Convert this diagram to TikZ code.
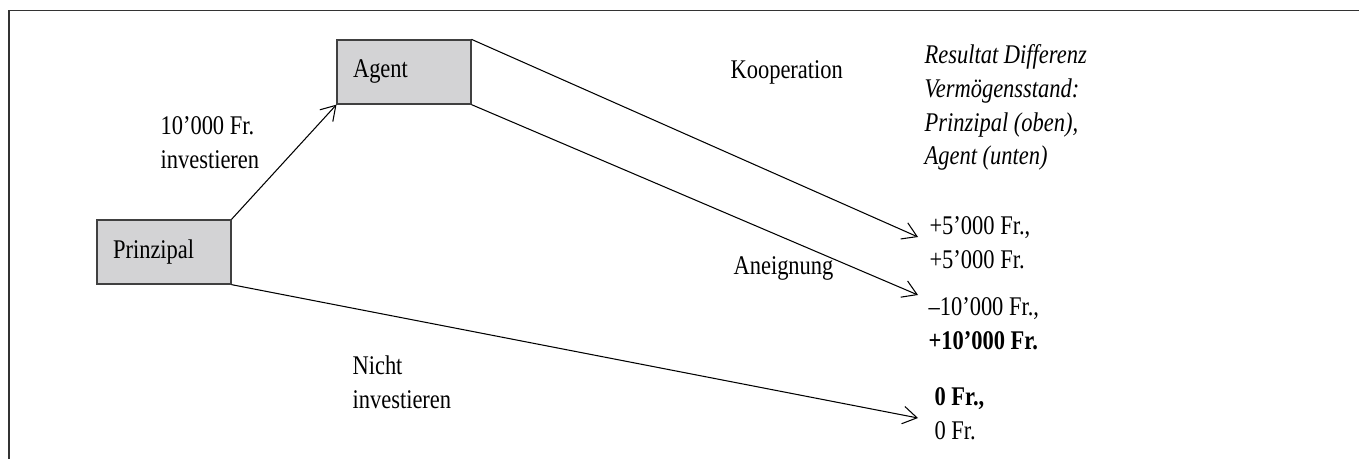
\documentclass[tikz,border=0pt]{standalone}
\usepackage{fontspec}
\setmainfont{Liberation Serif}
\usepackage{xcolor}
\usetikzlibrary{arrows.meta}
\definecolor{boxgray}{RGB}{211,211,213}

\begin{document}
\begin{tikzpicture}[x=0.02cm, y=-0.02cm, line width=0.6pt, >={Straight Barb[length=8pt,width=10pt]},
        main/.style = {draw=black!75, fill=boxgray, yscale=1.2, minimum width=2.68cm, minimum height=1.067cm, inner xsep=0.32cm, inner ysep=0pt, text width=2.04cm, align=left, font=\fontsize{12.8}{16}\selectfont},
        lbl/.style = {yscale=1.2, inner sep=0pt, align=left, font=\fontsize{12.8}{16}\selectfont}]
        \useasboundingbox (0,0) rectangle (1359,459);
        % frame
        \draw[black!80, line width=0.9pt] (9,459) -- (9,10.5) -- (1359,10.5);
        \node[main] (1) at (164,252) {Prinzipal};
        \node[main] (2) at (404,72) {Agent};
        \coordinate (6) at (918,237);
        \coordinate (7) at (918,295);
        \coordinate (8) at (918,418);
        \draw[->] (1.north east) to (2.south west);
        \draw[->] (2.north east) to (6);
        \draw[->] (2.south east) to (7);
        \draw[->] (1.south east) to (8);
        % labels
        \node[lbl, anchor=north west] (9) at (160,116) {10’000 Fr.\\investieren};
        \node[lbl, anchor=base west] (10) at (730,79) {Kooperation};
        \node[lbl, anchor=base west] (11) at (733,275) {Aneignung};
        \node[lbl, anchor=north west] (12) at (352,355) {Nicht\\investieren};
        \node[lbl, anchor=north west, font=\fontsize{12.8}{16}\selectfont\itshape] (13) at (924,44) {Resultat Differenz\\Vermögensstand:\\Prinzipal (oben),\\Agent (unten)};
        % results
        \node[lbl, anchor=north west] (3) at (929,216) {+5’000 Fr.,\\+5’000 Fr.};
        \node[lbl, anchor=north west] (4) at (928,297) {–10’000 Fr.,\\\textbf{+10’000 Fr.}};
        \node[lbl, anchor=north west] (5) at (934,387) {\textbf{0 Fr.,}\\0 Fr.};
\end{tikzpicture}
\end{document}
